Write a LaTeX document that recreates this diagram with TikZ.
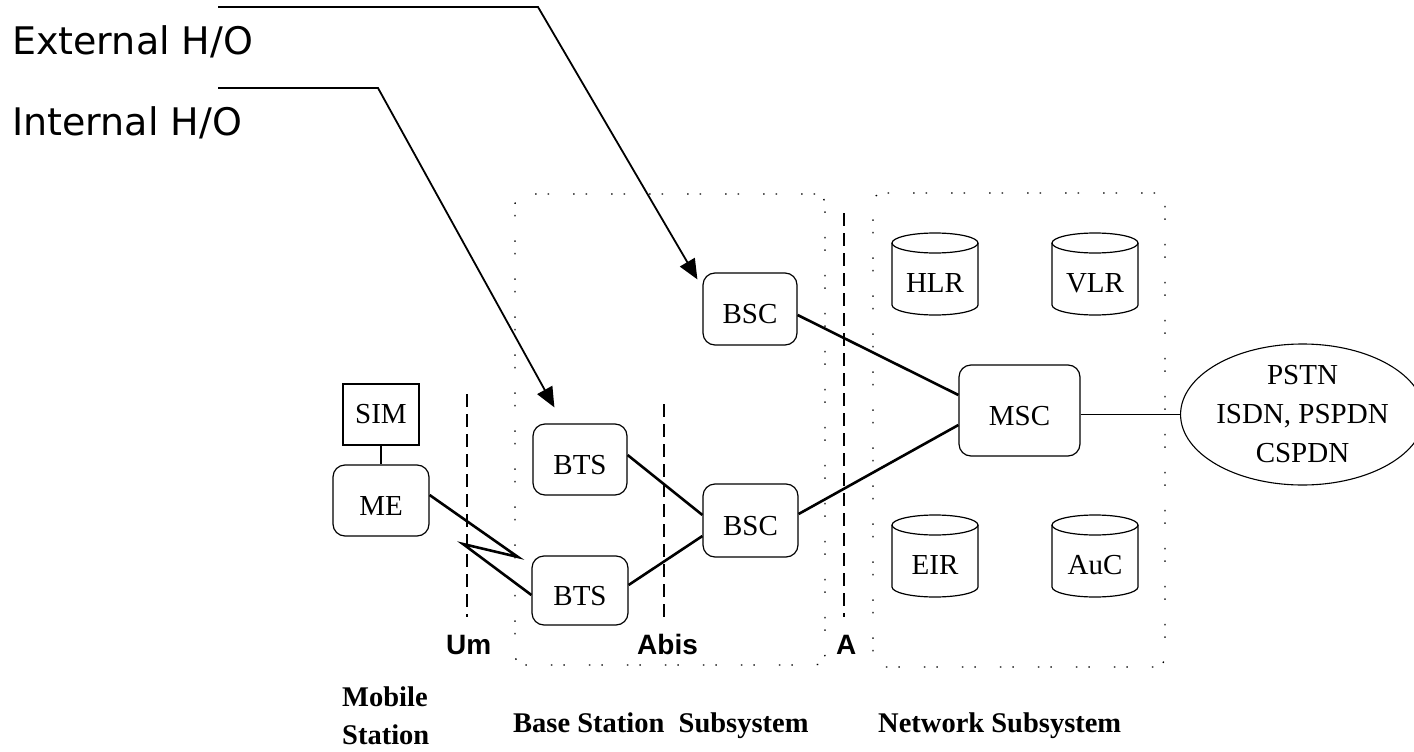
\documentclass[tikz,border=0pt]{standalone}
\usepackage{fontspec}
\setmainfont{Liberation Serif}
\newfontfamily\hofont{DejaVu Sans}
\newfontfamily\ifacefont{Liberation Sans}
\usetikzlibrary{arrows.meta,shapes.geometric,calc}

\tikzset{
  unitbox/.style={draw, line width=1.2pt, rounded corners=12pt, inner sep=0pt,
    text height=29pt, text depth=0pt, font=\fontsize{29}{31}\selectfont},
  simbox/.style={draw, line width=1.2pt, inner sep=0pt, font=\fontsize{29}{31}\selectfont},
  dbtext/.style={inner sep=0pt, font=\fontsize{29}{31}\selectfont},
  cyl/.style={line width=1.2pt},
  netcloud/.style={draw, ellipse, line width=1.1pt, inner sep=0pt, align=center,
    font=\fontsize{29}{39}\selectfont},
  region/.style={draw, line width=1.3pt, rounded corners=10pt, inner sep=0pt,
    dash pattern=on 1.5pt off 11pt on 1.5pt off 24pt},
  link/.style={line width=2.6pt},
  thinlink/.style={line width=1.3pt},
  iface/.style={line width=1.3pt, dash pattern=on 13pt off 7pt},
  ifacelabel/.style={anchor=base west, inner sep=0pt,
    font=\ifacefont\bfseries\fontsize{28}{30}\selectfont},
  grouplabel/.style={anchor=base west, inner sep=0pt, align=left,
    font=\bfseries\fontsize{28.5}{38}\selectfont},
  holabel/.style={anchor=base west, inner sep=0pt,
    font=\hofont\fontsize{38}{44}\selectfont},
  hoarrow/.style={line width=1.8pt, -{Triangle[length=20pt,width=17pt]}}
}

% database unit drawn as a cylinder: name, centre x, centre y, label
\newcommand\dbunit[4]{%
  \draw[cyl] (#2-43,#3-31) -- (#2-43,#3+31)
    arc[start angle=180, end angle=0, x radius=43, y radius=10] -- (#2+43,#3-31);
  \draw[cyl] (#2,#3-31) ellipse[x radius=43, y radius=10];
  \node[dbtext] (#1) at (#2,#3+9) {#4};
}

\begin{document}
\begin{tikzpicture}[x=1pt, y=-1pt]
\useasboundingbox (0,0) rectangle (1414,752);

% subsystem regions
\node[region, minimum width=310pt, minimum height=471pt] (bss) at (670,429.5) {};
\node[region, minimum width=292pt, minimum height=474pt] (nss) at (1019,430) {};

% interface boundaries
\draw[iface] (467,394) -- (467,617);
\draw[iface] (664,404) -- (664,617);
\draw[iface] (844,213) -- (844,617);
\node[ifacelabel] (um) at (446,654) {Um};
\node[ifacelabel] (abis) at (637,654) {Abis};
\node[ifacelabel] (aif) at (836,654) {A};

% mobile station
\node[simbox, minimum width=76pt, minimum height=61pt] (sim) at (381,414.5) {SIM};
\node[unitbox, minimum width=96pt, minimum height=71pt] (me) at (381,500.5) {ME};

% base station subsystem
\node[unitbox, minimum width=94pt, minimum height=71pt] (bts1) at (580,459.5) {BTS};
\node[unitbox, minimum width=96pt, minimum height=69pt] (bts2) at (580,590.5) {BTS};
\node[unitbox, minimum width=94pt, minimum height=72pt] (bsc1) at (750,309) {BSC};
\node[unitbox, minimum width=95pt, minimum height=73pt] (bsc2) at (750.5,520.5) {BSC};

% network subsystem
\node[unitbox, minimum width=121pt, minimum height=91pt] (msc) at (1019.5,410.5) {MSC};
\dbunit{hlr}{935}{274}{HLR}
\dbunit{vlr}{1095}{274}{VLR}
\dbunit{eir}{935}{556}{EIR}
\dbunit{auc}{1095}{556}{AuC}

% external networks
\node[netcloud, minimum width=221pt, minimum height=141pt] (pstn) at (1302.5,414.5)
  {PSTN\\ISDN, PSPDN\\CSPDN};

% links
\draw[link] (sim.south) -- (me.north);
\coordinate (zA) at (518,557);
\coordinate (zB) at (463,544);
\draw[link] ([shift={(0,-5.5)}]me.east) -- (zA) -- (zB) -- ([shift={(0,4.5)}]bts2.west);
\draw[link] ([shift={(0,-4.5)}]bts1.east) -- ([shift={(0,-5.5)}]bsc2.west);
\draw[link] ([shift={(0,-5.5)}]bts2.east) -- ([shift={(0,15.5)}]bsc2.west);
\draw[link] ([shift={(0,6)}]bsc1.east) -- ([shift={(0,-15.5)}]msc.west);
\draw[link] ([shift={(0,-6.5)}]bsc2.east) -- ([shift={(0,14.5)}]msc.west);
\draw[thinlink] (msc.east |- pstn.west) -- (pstn.west);

% handover annotations
\node[holabel] (ext) at (12,55) {External H/O};
\node[holabel] (int) at (12,135) {Internal H/O};
\coordinate (extA) at (218,7);
\coordinate (extB) at (538,7);
\coordinate (intA) at (218,88);
\coordinate (intB) at (378,88);
\draw[hoarrow] (extA) -- (extB) -- ([shift={(-5,7)}]bsc1.north west);
\draw[hoarrow] (intA) -- (intB) -- ([shift={(22,-16)}]bts1.north west);

% group captions
\node[grouplabel] (ms) at (342,744) {Mobile\\Station};
\node[grouplabel] (bsslabel) at (513,732) {Base Station\ \ Subsystem};
\node[grouplabel] (nsslabel) at (878,732) {Network Subsystem};
\end{tikzpicture}
\end{document}
